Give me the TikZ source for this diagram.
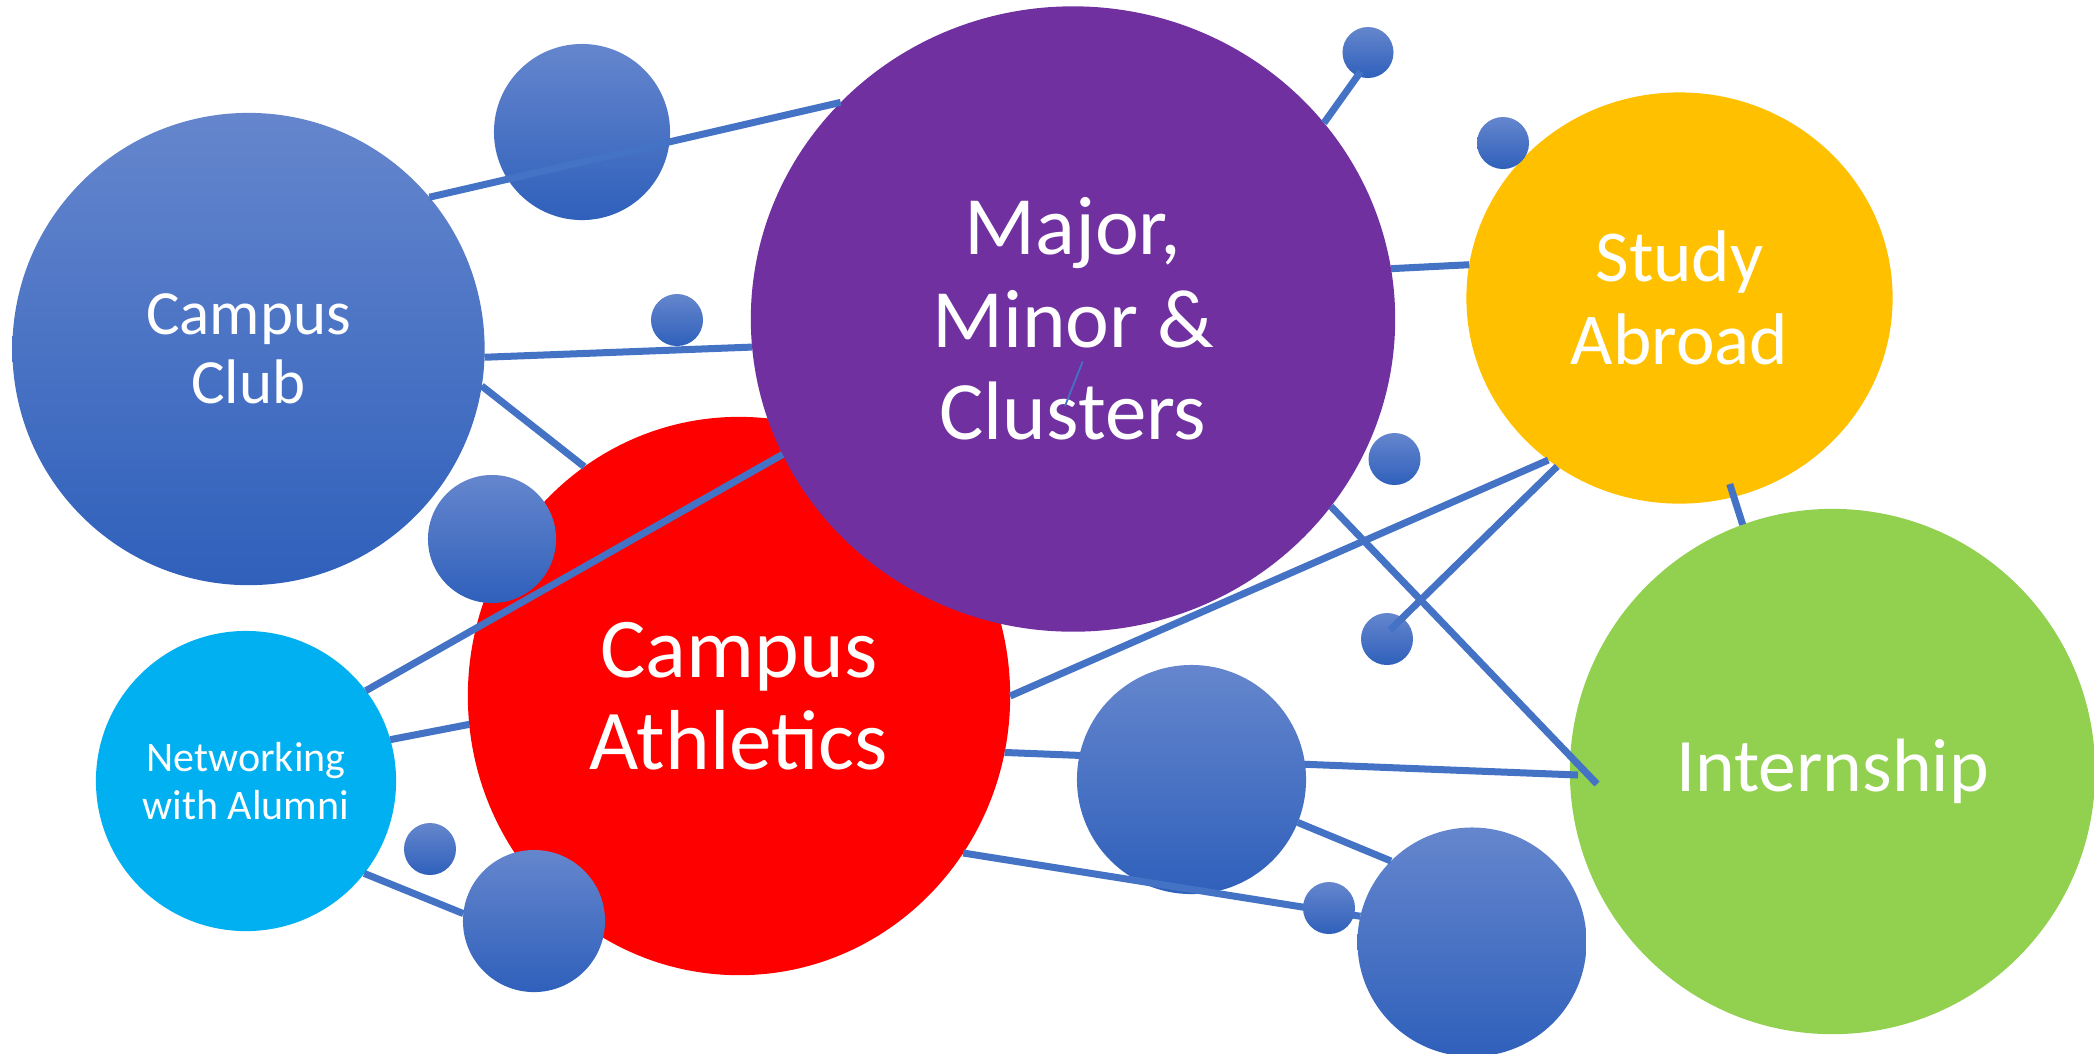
\documentclass[tikz,border=0pt]{standalone}
\usepackage{fontspec}
\setmainfont{Carlito}
\usetikzlibrary{shapes.geometric,calc}
\definecolor{lnblue}{HTML}{4472C4}
\definecolor{gtop}{RGB}{101,134,205}
\definecolor{gbot}{RGB}{47,96,187}
\definecolor{cpurple}{HTML}{7030A0}
\definecolor{cred}{HTML}{FF0000}
\definecolor{cyellow}{HTML}{FFC000}
\definecolor{cgreen}{HTML}{92D050}
\definecolor{ccyan}{HTML}{00B0F0}
\begin{document}
\begin{tikzpicture}[x=0.01cm,y=-0.01cm,
  bub/.style={ellipse,inner sep=0pt,outer sep=0pt,draw=none,text=white,align=center},
  dia/.style={minimum width=#1,minimum height=#1},
  blueb/.style={bub,top color=gtop,bottom color=gbot},
  link/.style={draw=lnblue,line width=0.07cm},
  hairlink/.style={draw=lnblue,line width=0.018cm}]
\fill[white] (0,0) rectangle (2094,1053);
\useasboundingbox (0,0) rectangle (2094,1053);

% main bubbles
\node[blueb,dia=4.72cm,font=\fontsize{17.9pt}{19.6pt}\selectfont] (cc) at (248.5,349) {Campus\\Club};
\node[blueb,dia=1.76cm] (s1) at (582,132) {};
\node[blueb,dia=0.52cm] (s2) at (677,320) {};
\node[bub,fill=ccyan,dia=3.0cm,font=\fontsize{11.95pt}{13.66pt}\selectfont] (net) at (246,781) {Networking\\with Alumni};
\node[bub,fill=cred,minimum width=5.42cm,minimum height=5.58cm,font=\fontsize{24.2pt}{26.2pt}\selectfont] (red) at (739,696) {Campus\\Athletics};
\node[bub,fill=cpurple,minimum width=6.44cm,minimum height=6.25cm,font=\fontsize{23.6pt}{26.3pt}\selectfont] (major) at (1073,319) {Major,\\Minor \&\\Clusters};
\node[bub,fill=cyellow,minimum width=4.26cm,minimum height=4.11cm,font=\fontsize{20.8pt}{23.5pt}\selectfont] (study) at (1679.5,298) {Study\\Abroad};
\node[bub,fill=cgreen,dia=5.25cm,font=\fontsize{21.5pt}{24pt}\selectfont] (intern) at (1832.5,771.5) {Internship};

% small bubbles under links
\node[blueb,dia=0.51cm] (s6) at (1368,52.5) {};
\node[blueb,dia=0.52cm] (s7) at (1503,143) {};
\node[blueb,dia=0.52cm] (s8) at (1394.5,459) {};
\node[blueb,dia=0.52cm] (s9) at (1387,639) {};

% links
\draw[link] (cc.40) -- (major.137.6);
\draw[link] (cc.-2.5) -- (major.185);
\draw[link] (cc.-9) -- (red.124.3);
\draw[link] (net.37) -- (major.205.7);
\draw[link] (net.16.4) -- (red.186.8);
\draw[link] (red.-0.2) -- (study.231.2);
\draw[link] ($(s9.center)+(3,-9)$) -- (study.234.9);
\draw[link] (major.-36.4) -- ($(intern.center)+(-235.5,12.5)$);
\draw[link] (major.38.7) -- ($(s6.center)+(-7.3,19)$);
\draw[link] (major.9.4) -- (study.171.6);
\draw[link] ($(study.center)+(50.2,186)$) -- (intern.110.2);
\draw[hairlink] ($(major.center)+(9.6,42.6)$) -- ($(major.center)+(-8,87)$);
\draw[link] (red.-12.8) -- ($(intern.center)+(-254.5,3.5)$);

% bubbles on top
\node[blueb,dia=1.28cm] (s3) at (492,539) {};
\node[blueb,dia=0.52cm] (s4) at (430,849) {};
\node[blueb,dia=1.42cm] (s5) at (534,921) {};
\draw[link] (net.-38.1) -- (s5.174.8);
\node[blueb,dia=2.29cm] (mid) at (1191.5,779.5) {};
\node[blueb,dia=2.29cm] (br) at (1472,942) {};
\draw[link] (red.-35.1) -- (br.167.8);
\draw[link] (mid.-22.8) -- (br.135);
\node[blueb,dia=0.52cm] (s10) at (1329,908) {};
\end{tikzpicture}
\end{document}
